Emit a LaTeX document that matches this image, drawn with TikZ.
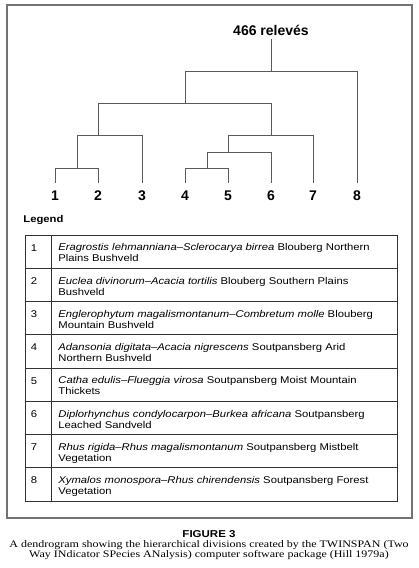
\documentclass[tikz,border=0pt]{standalone}
\usepackage{fontspec}
\setmainfont{Liberation Serif}[FakeStretch=1.2]
\setsansfont{Liberation Sans}
\newfontfamily\tabfont{Liberation Sans}[FakeStretch=1.15]
\definecolor{treegray}{gray}{0.35}
\definecolor{framegray}{gray}{0.45}
\definecolor{rulegray}{gray}{0.2}

\begin{document}
\begin{tikzpicture}[x=1pt,y=-1pt,line width=0.8pt,
  elbow/.style={to path={-| (\tikztotarget)}},
  leaf node/.style={anchor=base,inner xsep=0pt,inner ysep=7pt,font=\sffamily\fontsize{14}{14}\selectfont\bfseries},
  top node/.style={anchor=base,inner sep=3pt,font=\sffamily\fontsize{14}{14}\selectfont\bfseries},
  num node/.style={anchor=base,inner sep=0pt,font=\tabfont\fontsize{9.8}{11}\selectfont},
  row node/.style={anchor=north west,inner sep=0pt,align=left,execute at begin node=\strut,font=\tabfont\fontsize{9.8}{11}\selectfont}]

  \useasboundingbox (0,0) rectangle (418,568);
  \draw[framegray,line width=1.3pt] (7,5) rectangle (412,518);

  % dendrogram
  \node[top node] (top) at (271,35) {466 relev\'es};
  \node[leaf node] (l1) at (55,200) {1};
  \node[leaf node] (l2) at (98,200) {2};
  \node[leaf node] (l3) at (142,200) {3};
  \node[leaf node] (l4) at (185,200) {4};
  \node[leaf node] (l5) at (228,200) {5};
  \node[leaf node] (l6) at (271,200) {6};
  \node[leaf node] (l7) at (313,200) {7};
  \node[leaf node] (l8) at (357,200) {8};
  \coordinate (div0) at (271,71);
  \coordinate (div1) at (185,103);
  \coordinate (div2) at (98,135);
  \coordinate (div3) at (77,168);
  \coordinate (div4) at (271,135);
  \coordinate (div5) at (228,152);
  \coordinate (div6) at (207,168);

  \path[treegray,elbow]
    (top) edge[to path={-- (\tikztotarget)}] (div0)
    (div0) edge (div1) (div0) edge (l8.north)
    (div1) edge (div2) (div1) edge (div4)
    (div2) edge (div3) (div2) edge (l3.north)
    (div3) edge (l1.north) (div3) edge (l2.north)
    (div4) edge (div5) (div4) edge (l7.north)
    (div5) edge (div6) (div5) edge (l6.north)
    (div6) edge (l4.north) (div6) edge (l5.north);

  % legend
  \node[anchor=base west,inner sep=0pt,font=\tabfont\fontsize{9.8}{11}\selectfont\bfseries] (legend) at (23,222) {Legend};
  \draw[rulegray] (25,235) rectangle (397,501);
  \draw[rulegray] (51,235) -- (51,501);
  \draw[rulegray] (25,268.25) -- (397,268.25);
  \draw[rulegray] (25,301.5) -- (397,301.5);
  \draw[rulegray] (25,334.75) -- (397,334.75);
  \draw[rulegray] (25,368) -- (397,368);
  \draw[rulegray] (25,401.25) -- (397,401.25);
  \draw[rulegray] (25,434.5) -- (397,434.5);
  \draw[rulegray] (25,467.75) -- (397,467.75);

  \node[num node] (n1) at (34,251) {1};
  \node[num node] (n2) at (34,284.25) {2};
  \node[num node] (n3) at (34,317.5) {3};
  \node[num node] (n4) at (34,350.75) {4};
  \node[num node] (n5) at (34,384) {5};
  \node[num node] (n6) at (34,417.25) {6};
  \node[num node] (n7) at (34,450.5) {7};
  \node[num node] (n8) at (34,483.75) {8};

  \node[row node] (r1) at (58,243.3) {\textit{Eragrostis lehmanniana\textendash Sclerocarya birrea} Blouberg Northern\\Plains Bushveld};
  \node[row node] (r2) at (58,276.55) {\textit{Euclea divinorum\textendash Acacia tortilis} Blouberg Southern Plains\\Bushveld};
  \node[row node] (r3) at (58,309.8) {\textit{Englerophytum magalismontanum\textendash Combretum molle} Blouberg\\Mountain Bushveld};
  \node[row node] (r4) at (58,343.05) {\textit{Adansonia digitata\textendash Acacia nigrescens} Soutpansberg Arid\\Northern Bushveld};
  \node[row node] (r5) at (58,376.3) {\textit{Catha edulis\textendash Flueggia virosa} Soutpansberg Moist Mountain\\Thickets};
  \node[row node] (r6) at (58,409.55) {\textit{Diplorhynchus condylocarpon\textendash Burkea africana} Soutpansberg\\Leached Sandveld};
  \node[row node] (r7) at (58,442.8) {\textit{Rhus rigida\textendash Rhus magalismontanum} Soutpansberg Mistbelt\\Vegetation};
  \node[row node] (r8) at (58,476.05) {\textit{Xymalos monospora\textendash Rhus chirendensis} Soutpansberg Forest\\Vegetation};

  % caption
  \node[anchor=base,inner sep=0pt,font=\tabfont\fontsize{10}{10}\selectfont\bfseries] (fig) at (209,537) {FIGURE 3};
  \node[anchor=north,inner sep=0pt,align=center,execute at begin node=\strut,font=\rmfamily\fontsize{10}{10}\selectfont] (cap) at (209,540) {A dendrogram showing the hierarchical divisions created by the TWINSPAN (Two\\Way INdicator SPecies ANalysis) computer software package (Hill 1979a)};
\end{tikzpicture}
\end{document}
